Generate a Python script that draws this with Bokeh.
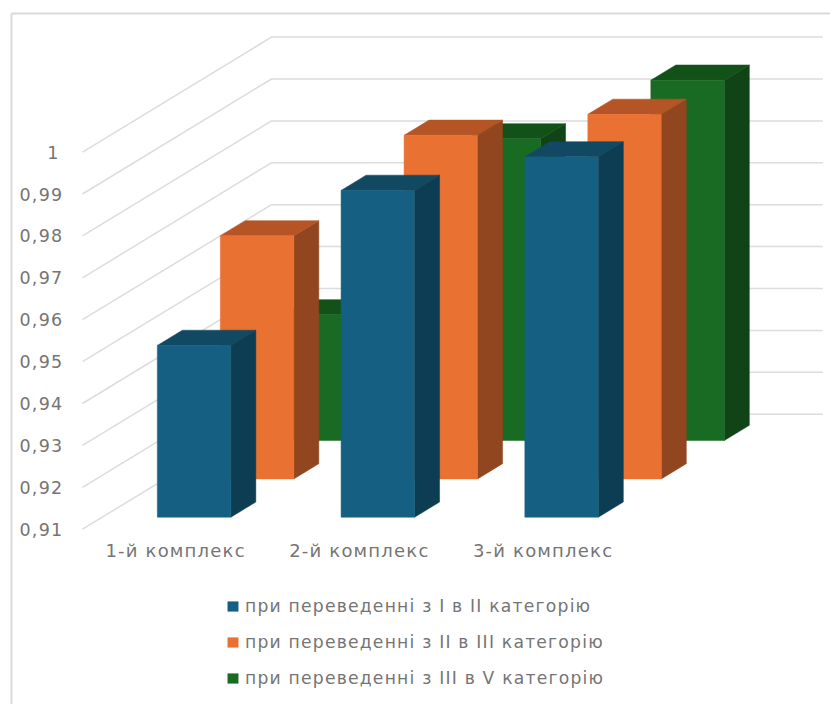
from bokeh.embed import file_html
from bokeh.models import FixedTicker, Legend, LegendItem, LinearAxis, Range1d
from bokeh.plotting import figure
from bokeh.resources import INLINE

# Values of the three transfer series per complex
categories = ["1-й комплекс", "2-й комплекс", "3-й комплекс"]
series_names = [
    "при переведенні з I в II категорію",
    "при переведенні з II в III категорію",
    "при переведенні з III в V категорію",
]
first_to_second = [0.951, 0.988, 0.996]
second_to_third = [0.968, 0.992, 0.997]
third_to_fifth = [0.940, 0.982, 0.996]
value_ticks = [0.91, 0.92, 0.93, 0.94, 0.95, 0.96, 0.97, 0.98, 0.99, 1.0]
value_labels = ["0,91", "0,92", "0,93", "0,94", "0,95", "0,96", "0,97", "0,98", "0,99", "1"]

# Oblique projection: one value unit and one category unit on the page
PX_PER_VALUE = 4190.0
PX_PER_CAT = 183.75
DEPTH_PX_X = 189.0
DEPTH_PX_Y = 115.0
SHIFT_X = DEPTH_PX_X / PX_PER_CAT
SHIFT_Y = DEPTH_PX_Y / PX_PER_VALUE
BASE = value_ticks[0]

W, H = 830, 704
FRAME_LEFT, FRAME_TOP = 11, 13
ORIGIN_X, ORIGIN_Y = 82.0, 528.7
TEXT_GREY = "#757575"
RULE_GREY = "#d9d9d9"

colors = [
    ("#156082", "#114963", "#0c3d52"),
    ("#e97132", "#b55424", "#91461f"),
    ("#196b24", "#125218", "#104316"),
]

p = figure(
    width=W, height=H, output_backend="svg", toolbar_location=None,
    x_range=Range1d((FRAME_LEFT - ORIGIN_X) / PX_PER_CAT, (W - ORIGIN_X) / PX_PER_CAT),
    y_range=Range1d(BASE - (H - ORIGIN_Y) / PX_PER_VALUE, BASE + (ORIGIN_Y - FRAME_TOP) / PX_PER_VALUE),
    x_axis_location=None, y_axis_location=None,
    min_border_left=FRAME_LEFT, min_border_top=FRAME_TOP, min_border_right=0, min_border_bottom=0,
    styles={"letter-spacing": "1.2px"},
)
p.grid.visible = False
p.outline_line_color = None
p.background_fill_color = "white"


def project(cat, depth, val):
    """Page-plane coordinates of a point at a given category, depth (0..1) and value."""
    return cat + depth * SHIFT_X, val + depth * SHIFT_Y


# Gridlines: diagonal on the side wall, level on the back wall
grid_xs, grid_ys = [], []
n_cat = len(categories)
for v in value_ticks:
    x_back, y_back = project(0, 1, v)
    x_end, _ = project(n_cat, 1, v)
    grid_xs.append([0, x_back, x_end])
    grid_ys.append([v, y_back, y_back])
p.multi_line(grid_xs, grid_ys, line_color="#dcdcdc", line_width=1.5)

bar_width = 0.4
depth_gap = 19.7 / DEPTH_PX_X
depth_size = 25.0 / DEPTH_PX_X
all_series = [first_to_second, second_to_third, third_to_fifth]

# Columns are painted back to front so nearer series cover farther ones
front_renderers = {}
for s in (2, 1, 0):
    d0 = s / 3 + depth_gap
    d1 = d0 + depth_size
    fx, fy, tx, ty, sx, sy = [], [], [], [], [], []
    for c, v in enumerate(all_series[s]):
        x0 = c + 0.5 - bar_width / 2
        x1 = x0 + bar_width
        a = project(x0, d0, BASE)
        b = project(x1, d0, BASE)
        e = project(x1, d0, v)
        f = project(x0, d0, v)
        g = project(x1, d1, v)
        h = project(x0, d1, v)
        i = project(x1, d1, BASE)
        fx.append([a[0], b[0], e[0], f[0]])
        fy.append([a[1], b[1], e[1], f[1]])
        tx.append([f[0], e[0], g[0], h[0]])
        ty.append([f[1], e[1], g[1], h[1]])
        sx.append([b[0], i[0], g[0], e[0]])
        sy.append([b[1], i[1], g[1], e[1]])
    face, top, side = colors[s]
    p.patches(sx, sy, fill_color=side, line_color=side, line_width=0.5)
    p.patches(tx, ty, fill_color=top, line_color=top, line_width=0.5)
    front_renderers[s] = p.patches(fx, fy, fill_color=face, line_color=face, line_width=0.5)

# Value and category axes: labels pulled in next to the walls and columns;
# the value axis line and the empty top axis line rule off the chart area
left = LinearAxis(
    ticker=FixedTicker(ticks=value_ticks),
    major_label_overrides=dict(zip(value_ticks, value_labels)),
    major_label_standoff=-53,
    major_tick_line_color=None, minor_tick_line_color=None,
    axis_line_color=RULE_GREY, axis_line_width=2,
    major_label_text_color=TEXT_GREY, major_label_text_font="DejaVu Sans",
    major_label_text_font_size="17.5px",
)
p.add_layout(left, "left")

# Letter spacing widens the labels to the right of where they are centred,
# so the category ticks sit slightly left of the slot middles
label_nudge = 6.0 / PX_PER_CAT
cat_ticks = [i + 0.5 - label_nudge for i in range(n_cat)]
bottom = LinearAxis(
    ticker=FixedTicker(ticks=cat_ticks),
    major_label_overrides=dict(zip(cat_ticks, categories)),
    major_label_standoff=-(H - 533),
    major_tick_line_color=None, minor_tick_line_color=None, axis_line_color=None,
    major_label_text_color=TEXT_GREY, major_label_text_font="DejaVu Sans",
    major_label_text_font_size="18px",
)
p.add_layout(bottom, "below")

top_axis = LinearAxis(
    ticker=FixedTicker(ticks=[]),
    major_tick_line_color=None, minor_tick_line_color=None,
    major_label_text_font_size="0px",
    axis_line_color=RULE_GREY, axis_line_width=2,
)
p.add_layout(top_axis, "above")

legend = Legend(
    items=[LegendItem(label=series_names[s], renderers=[front_renderers[s]]) for s in range(3)],
    location=(215, 16),
    orientation="vertical",
    background_fill_alpha=0, border_line_color=None,
    glyph_width=13, glyph_height=12, label_height=12, label_width=360,
    spacing=16, padding=12, margin=0, label_standoff=6,
    label_text_color=TEXT_GREY, label_text_font="DejaVu Sans", label_text_font_size="17.2px",
)
p.add_layout(legend, "center")

open("out.html", "w").write(file_html(p, INLINE))
